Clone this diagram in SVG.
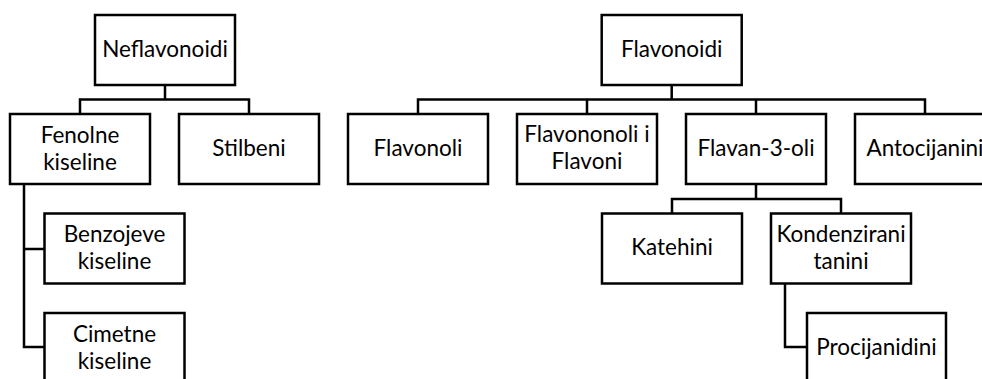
<svg xmlns="http://www.w3.org/2000/svg" width="982" height="379" viewBox="0 0 982 379">
<style>
.box{fill:#fff;stroke:#000;stroke-width:2.5}
.ln{fill:none;stroke:#000;stroke-width:2.5}
text{font-family:Lato,"Liberation Sans",sans-serif;font-size:22.5px;fill:#000;text-anchor:middle}
</style>
<rect width="982" height="379" fill="#fff"/>
<g id="connectors">
<path class="ln" d="M165,85V99.5M80,114V99.5H249V114"/>
<path class="ln" d="M24,184V347H44.5M24,249H44.5"/>
<path class="ln" d="M671.7,85V99.5M418,114V99.5H925V114M587,99.5V114M756,99.5V114"/>
<path class="ln" d="M756,184V199M672,213V199H841V213"/>
<path class="ln" d="M785,283V347H807"/>
</g>
<g id="neflavonoidi"><rect class="box" x="95" y="15" width="140" height="70"/><text x="165" y="57">Neflavonoidi</text></g>
<g id="fenolne"><rect class="box" x="10" y="114" width="140" height="70"/><text x="80" y="142.5">Fenolne</text><text x="80" y="170">kiseline</text></g>
<g id="stilbeni"><rect class="box" x="179" y="114" width="140" height="70"/><text x="249" y="156">Stilbeni</text></g>
<g id="benzojeve"><rect class="box" x="44.5" y="213.5" width="140" height="70"/><text x="114.5" y="242">Benzojeve</text><text x="114.5" y="269">kiseline</text></g>
<g id="cimetne"><rect class="box" x="44.5" y="313" width="140" height="70"/><text x="114.5" y="341.5">Cimetne</text><text x="114.5" y="369">kiseline</text></g>
<g id="flavonoidi"><rect class="box" x="601.7" y="15" width="140" height="70"/><text x="671.7" y="57">Flavonoidi</text></g>
<g id="flavonoli"><rect class="box" x="348" y="114" width="140" height="70"/><text x="418" y="156">Flavonoli</text></g>
<g id="flavononoli"><rect class="box" x="517" y="114" width="140" height="70"/><text x="587" y="142">Flavononoli i</text><text x="587" y="168.5">Flavoni</text></g>
<g id="flavan3oli"><rect class="box" x="686" y="114" width="140" height="70"/><text x="756" y="156">Flavan-3-oli</text></g>
<g id="antocijanini"><rect class="box" x="855" y="114" width="140" height="70"/><text x="925" y="156">Antocijanini</text></g>
<g id="katehini"><rect class="box" x="602" y="213.5" width="140" height="70"/><text x="672" y="255">Katehini</text></g>
<g id="kondenzirani"><rect class="box" x="771" y="213.5" width="140" height="70"/><text x="841" y="242">Kondenzirani</text><text x="841" y="269">tanini</text></g>
<g id="procijanidini"><rect class="box" x="807" y="313" width="139" height="70"/><text x="876.5" y="355">Procijanidini</text></g>
</svg>
